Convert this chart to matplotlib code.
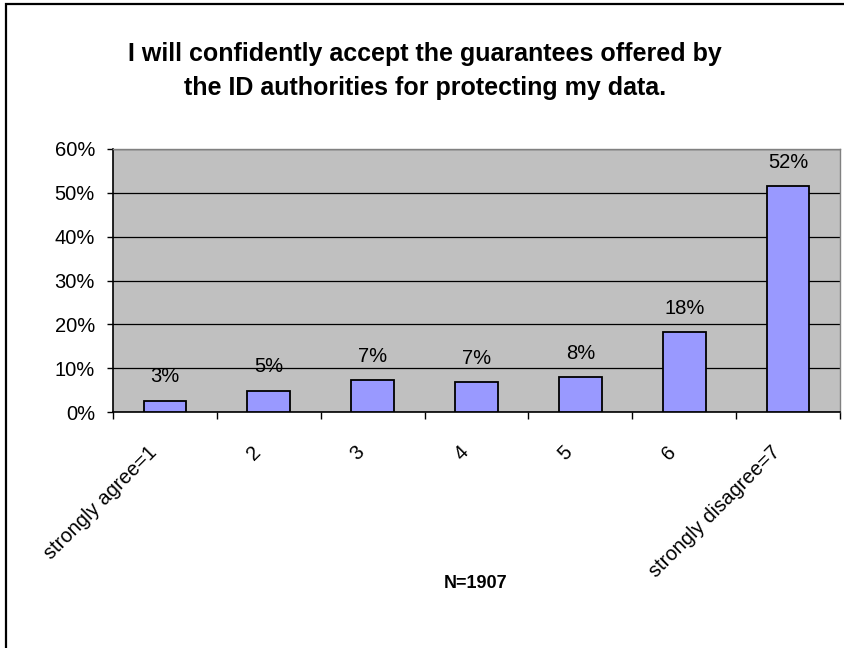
import numpy as np
import matplotlib.pyplot as plt
import matplotlib.transforms as mtransforms
from matplotlib.patches import Rectangle

plt.rcParams['font.family'] = ['Liberation Sans', 'DejaVu Sans']

# data
categories = ['strongly agree=1', '2', '3', '4', '5', '6', 'strongly disagree=7']
values = [2.6, 4.9, 7.2, 6.8, 7.9, 18.2, 51.5]
labels = ['3%', '5%', '7%', '7%', '8%', '18%', '52%']
yticks = [0, 10, 20, 30, 40, 50, 60]
title = 'I will confidently accept the guarantees offered by\nthe ID authorities for protecting my data.'
note = 'N=1907'

fig = plt.figure(figsize=(8.45, 6.48), dpi=100)
ax = fig.add_axes([113/845, 1 - 412/648, 727/845, 263/648])

x = np.arange(len(categories))
ax.set_facecolor('#C0C0C0')
ax.set_axisbelow(True)
ax.yaxis.grid(True, color='black', linewidth=0.9)
ax.bar(x, values, width=0.41, color='#9999FF', edgecolor='black', linewidth=1.3, zorder=3)

for xi, v, lab in zip(x, values, labels):
    ax.annotate(lab, (xi, v), xytext=(0, 17), textcoords='offset points',
                ha='center', va='center', fontsize=14.5)

ax.set_xlim(-0.5, len(categories) - 0.5)
ax.set_ylim(0, 60)
ax.set_yticks(yticks)
ax.set_yticklabels([f'{t}%' for t in yticks], fontsize=14.5)
ax.tick_params(axis='y', direction='out', length=4, width=1, pad=9)

# ticks on the category boundaries, labels in the middle
ax.set_xticks(x)
ax.set_xticklabels(categories, fontsize=14.5, rotation=45, ha='right', va='center',
                   rotation_mode='anchor')
ax.set_xticks(np.arange(len(categories) + 1) - 0.5, minor=True)
ax.tick_params(axis='x', which='major', length=0, pad=27)
ax.tick_params(axis='x', which='minor', direction='out', length=5, width=1)
shift = mtransforms.ScaledTranslation(-8/72, 0, fig.dpi_scale_trans)
for t in ax.get_xticklabels():
    t.set_transform(t.get_transform() + shift)

for s in ['left', 'bottom']:
    ax.spines[s].set_color('black')
    ax.spines[s].set_linewidth(1.2)
for s in ['top', 'right']:
    ax.spines[s].set_color('#808080')
    ax.spines[s].set_linewidth(1)

fig.text(0.503, 1 - 71/648, title, ha='center', va='center', fontsize=18,
         fontweight='bold', linespacing=1.5)
fig.text(476/845, 1 - 583/648, note, ha='center', va='center', fontsize=13,
         fontweight='bold')

# outer chart frame (only left and top are inside the picture)
fig.patches.append(Rectangle((6/845, -0.1), 1.2, 1 - 4.5/648 + 0.1,
                             transform=fig.transFigure, fill=False,
                             edgecolor='black', linewidth=1.6))

fig.savefig('out.png', dpi=100)
